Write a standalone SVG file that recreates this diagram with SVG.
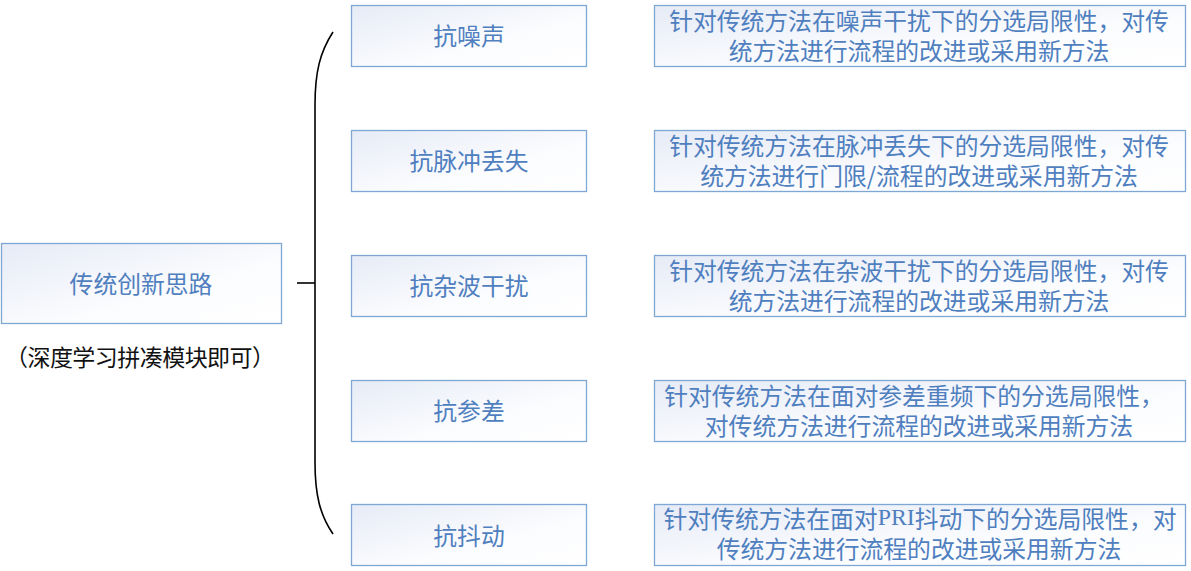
<svg xmlns="http://www.w3.org/2000/svg" width="1191" height="571" viewBox="0 0 1191 571">
<defs>
<linearGradient id="g" x1="0" y1="0" x2="1" y2="1">
<stop offset="0" stop-color="#e6ebf6"/>
<stop offset="0.6" stop-color="#fbfcfe"/>
<stop offset="1" stop-color="#ffffff"/>
</linearGradient>
<style>
.box{fill:url(#g);stroke:#7fa7d3;stroke-width:1.3}
.t{font-family:"Noto Sans CJK SC","Noto Sans",sans-serif;font-size:23.8px;fill:#4f7fbf;text-anchor:middle;dominant-baseline:central}
.note{font-family:"Noto Sans CJK SC",sans-serif;font-size:23px;fill:#111;text-anchor:middle;dominant-baseline:central}
.c{fill:none;stroke:#000;stroke-width:1.6}
.lat{font-family:"Liberation Serif",serif}
</style>
</defs>
<rect width="1191" height="571" fill="#fff"/>
<g id="connectors">
<path class="c" d="M333,32 C320,52 315,72 315,105 L315,462 C315,495 320,515 333,534"/>
<path class="c" d="M297,283 H315"/>
</g>
<g id="root">
<rect class="box" x="1.5" y="243.5" width="280" height="80"/>
<text class="t" x="141" y="282">传统创新思路</text>
<text class="note" x="140" y="356" textLength="270" lengthAdjust="spacing">（深度学习拼凑模块即可）</text>
</g>
<g id="n1">
<rect class="box" x="351.5" y="5.5" width="235" height="61"/>
<text class="t" x="469" y="34">抗噪声</text>
</g>
<g id="n2">
<rect class="box" x="351.5" y="130.5" width="235" height="61"/>
<text class="t" x="469" y="159">抗脉冲丢失</text>
</g>
<g id="n3">
<rect class="box" x="351.5" y="255.5" width="235" height="61"/>
<text class="t" x="469" y="284">抗杂波干扰</text>
</g>
<g id="n4">
<rect class="box" x="351.5" y="380.5" width="235" height="61"/>
<text class="t" x="469" y="409">抗参差</text>
</g>
<g id="n5">
<rect class="box" x="351.5" y="504.5" width="235" height="61"/>
<text class="t" x="469" y="534">抗抖动</text>
</g>
<g id="d1">
<rect class="box" x="654.5" y="5.5" width="531" height="61"/>
<text class="t"><tspan x="919" y="19">针对传统方法在噪声干扰下的分选局限性，对传</tspan><tspan x="919" y="49">统方法进行流程的改进或采用新方法</tspan></text>
</g>
<g id="d2">
<rect class="box" x="654.5" y="130.5" width="531" height="61"/>
<text class="t"><tspan x="919" y="144">针对传统方法在脉冲丢失下的分选局限性，对传</tspan><tspan x="919" y="174">统方法进行门限/流程的改进或采用新方法</tspan></text>
</g>
<g id="d3">
<rect class="box" x="654.5" y="255.5" width="531" height="61"/>
<text class="t"><tspan x="919" y="269">针对传统方法在杂波干扰下的分选局限性，对传</tspan><tspan x="919" y="299">统方法进行流程的改进或采用新方法</tspan></text>
</g>
<g id="d4">
<rect class="box" x="654.5" y="380.5" width="531" height="61"/>
<text class="t"><tspan x="914" y="394">针对传统方法在面对参差重频下的分选局限性，</tspan><tspan x="919" y="424">对传统方法进行流程的改进或采用新方法</tspan></text>
</g>
<g id="d5">
<rect class="box" x="654.5" y="504.5" width="531" height="61"/>
<text class="t"><tspan x="920" y="517">针对传统方法在面对<tspan class="lat">PRI</tspan>抖动下的分选局限性，对</tspan><tspan x="919" y="547">传统方法进行流程的改进或采用新方法</tspan></text>
</g>
</svg>
